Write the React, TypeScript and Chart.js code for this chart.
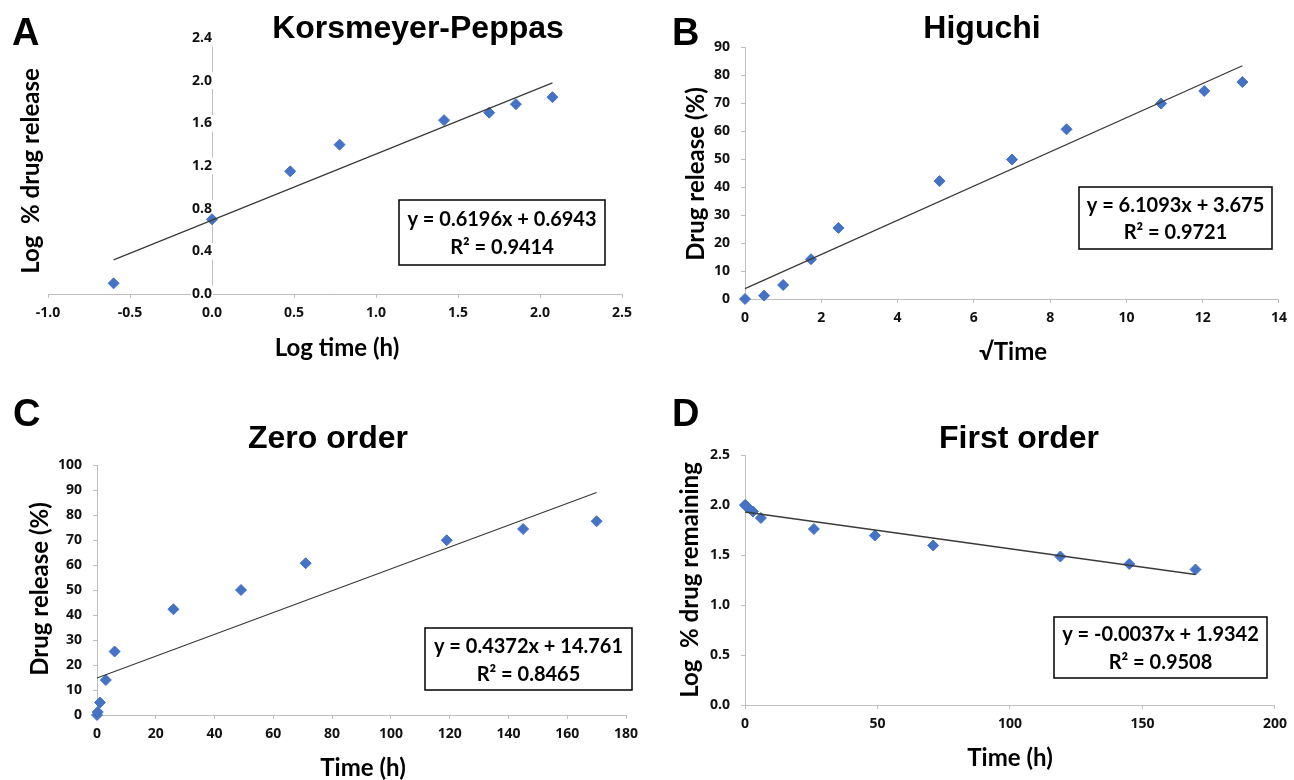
import React, { useEffect, useRef } from 'react';
import { Chart, registerables } from 'chart.js';

Chart.register(...registerables);

const PAGE_W = 1294;
const PAGE_H = 780;

// ---------- Panel A: Korsmeyer-Peppas ----------
const kpLogTime = [-0.6, 0.0, 0.477, 0.778, 1.415, 1.69, 1.853, 2.076];
const kpLogRelease = [0.1, 0.7, 1.15, 1.4, 1.63, 1.7, 1.78, 1.845];
const kpTrendX = [-0.6, 2.076];
const kpTrendY = [0.32, 1.98];
const kpXTicks = [-1, -0.5, 0, 0.5, 1, 1.5, 2, 2.5];
const kpXLabels = ['-1.0', '-0.5', '0.0', '0.5', '1.0', '1.5', '2.0', '2.5'];
const kpYTicks = [0, 0.4, 0.8, 1.2, 1.6, 2.0, 2.4];
const kpYLabels = ['0.0', '0.4', '0.8', '1.2', '1.6', '2.0', '2.4'];

// ---------- Panel B: Higuchi ----------
const hgSqrtTime = [0, 0.5, 1, 1.73, 2.45, 5.1, 7.0, 8.43, 10.91, 12.04, 13.04];
const hgRelease = [0, 1.2, 5, 14.2, 25.4, 42.1, 49.8, 60.6, 69.8, 74.3, 77.5];
const hgTrendX = [0, 13.04];
const hgTrendY = [3.7, 83.3];
const hgXTicks = [0, 2, 4, 6, 8, 10, 12, 14];
const hgXLabels = ['0', '2', '4', '6', '8', '10', '12', '14'];
const hgYTicks = [0, 10, 20, 30, 40, 50, 60, 70, 80, 90];
const hgYLabels = ['0', '10', '20', '30', '40', '50', '60', '70', '80', '90'];

// ---------- Panel C: Zero order ----------
const zoTime = [0, 0.25, 1, 3, 6, 26, 49, 71, 119, 145, 170];
const zoRelease = [0, 1.2, 5, 14, 25.4, 42.3, 50, 60.7, 69.9, 74.4, 77.5];
const zoTrendX = [0, 170];
const zoTrendY = [14.8, 89.0];
const zoXTicks = [0, 20, 40, 60, 80, 100, 120, 140, 160, 180];
const zoXLabels = ['0', '20', '40', '60', '80', '100', '120', '140', '160', '180'];
const zoYTicks = [0, 10, 20, 30, 40, 50, 60, 70, 80, 90, 100];
const zoYLabels = ['0', '10', '20', '30', '40', '50', '60', '70', '80', '90', '100'];

// ---------- Panel D: First order ----------
const foTime = [0, 0.25, 1, 3, 6, 26, 49, 71, 119, 145, 170];
const foLogRemaining = [2.0, 1.995, 1.978, 1.935, 1.87, 1.76, 1.695, 1.595, 1.485, 1.41, 1.355];
const foTrendX = [0, 170];
const foTrendY = [1.93, 1.305];
const foXTicks = [0, 50, 100, 150, 200];
const foXLabels = ['0', '50', '100', '150', '200'];
const foYTicks = [0, 0.5, 1.0, 1.5, 2.0, 2.5];
const foYLabels = ['0.0', '0.5', '1.0', '1.5', '2.0', '2.5'];

const MARKER = '#4472C4';
const TREND = '#3a3a3a';
const AXIS = '#bfbfbf';
const TICK_TXT = '#111111';
const TICK_FONT = { family: '"Open Sans"', size: 14, weight: 'bold' as const };
const X_AXIS_H = 40;
const Y_AXIS_W = 40;

type Panel = {
  letter: string;
  title: string;
  xTitle: string;
  yTitle: string;
  eq: string;
  r2: string;
  xs: number[];
  ys: number[];
  tx: number[];
  ty: number[];
  xTicks: number[];
  xLabels: string[];
  yTicks: number[];
  yLabels: string[];
  yAtZero: boolean;
  area: { left: number; right: number; top: number; bottom: number };
  letterPos: [number, number];
  titlePos: [number, number];
  xTitlePos: [number, number];
  yTitlePos: [number, number];
  box: { x: number; y: number; w: number; h: number; l1: number; l2: number };
};

const panels: Panel[] = [
  {
    letter: 'A', title: 'Korsmeyer-Peppas', xTitle: 'Log time (h)', yTitle: 'Log  % drug release',
    eq: 'y = 0.6196x + 0.6943', r2: 'R² = 0.9414',
    xs: kpLogTime, ys: kpLogRelease, tx: kpTrendX, ty: kpTrendY,
    xTicks: kpXTicks, xLabels: kpXLabels, yTicks: kpYTicks, yLabels: kpYLabels, yAtZero: true,
    area: { left: 48, right: 622, top: 38, bottom: 294 },
    letterPos: [12, 45], titlePos: [418, 38], xTitlePos: [337, 348], yTitlePos: [31, 171],
    box: { x: 399, y: 200, w: 206, h: 65, l1: 220, l2: 248 },
  },
  {
    letter: 'B', title: 'Higuchi', xTitle: '√Time', yTitle: 'Drug release (%)',
    eq: 'y = 6.1093x + 3.675', r2: 'R² = 0.9721',
    xs: hgSqrtTime, ys: hgRelease, tx: hgTrendX, ty: hgTrendY,
    xTicks: hgXTicks, xLabels: hgXLabels, yTicks: hgYTicks, yLabels: hgYLabels, yAtZero: false,
    area: { left: 745, right: 1287, top: 47, bottom: 299 },
    letterPos: [672, 45], titlePos: [982, 38], xTitlePos: [1013, 352], yTitlePos: [696, 174],
    box: { x: 1079, y: 187, w: 193, h: 62, l1: 206, l2: 233 },
  },
  {
    letter: 'C', title: 'Zero order', xTitle: 'Time (h)', yTitle: 'Drug release (%)',
    eq: 'y = 0.4372x + 14.761', r2: 'R² = 0.8465',
    xs: zoTime, ys: zoRelease, tx: zoTrendX, ty: zoTrendY,
    xTicks: zoXTicks, xLabels: zoXLabels, yTicks: zoYTicks, yLabels: zoYLabels, yAtZero: false,
    area: { left: 97, right: 626, top: 465, bottom: 715 },
    letterPos: [13, 426], titlePos: [328, 448], xTitlePos: [363, 768], yTitlePos: [40, 589],
    box: { x: 425, y: 628, w: 207, h: 62, l1: 647, l2: 675 },
  },
  {
    letter: 'D', title: 'First order', xTitle: 'Time (h)', yTitle: 'Log  % drug remaining',
    eq: 'y = -0.0037x + 1.9342', r2: 'R² = 0.9508',
    xs: foTime, ys: foLogRemaining, tx: foTrendX, ty: foTrendY,
    xTicks: foXTicks, xLabels: foXLabels, yTicks: foYTicks, yLabels: foYLabels, yAtZero: false,
    area: { left: 745, right: 1275, top: 455, bottom: 705 },
    letterPos: [672, 426], titlePos: [1019, 448], xTitlePos: [1010, 758], yTitlePos: [690, 580],
    box: { x: 1054, y: 617, w: 213, h: 61, l1: 635, l2: 663 },
  },
];

function annotations(p: Panel) {
  return {
    id: 'annot' + p.letter,
    afterDraw(chart: any) {
      const ctx: CanvasRenderingContext2D = chart.ctx;
      ctx.save();
      ctx.fillStyle = '#000';
      ctx.textBaseline = 'alphabetic';
      ctx.textAlign = 'left';
      ctx.font = 'bold 38px "Liberation Sans", Arial, sans-serif';
      ctx.fillText(p.letter, p.letterPos[0], p.letterPos[1]);
      ctx.textAlign = 'center';
      ctx.font = 'bold 32px "Liberation Sans", Arial, sans-serif';
      ctx.fillText(p.title, p.titlePos[0], p.titlePos[1]);
      ctx.textBaseline = 'middle';
      ctx.font = 'bold 24px Lato, sans-serif';
      ctx.fillText(p.xTitle, p.xTitlePos[0], p.xTitlePos[1]);
      ctx.save();
      ctx.translate(p.yTitlePos[0], p.yTitlePos[1]);
      ctx.rotate(-Math.PI / 2);
      ctx.fillText(p.yTitle, 0, 0);
      ctx.restore();
      const b = p.box;
      ctx.fillStyle = '#fff';
      ctx.fillRect(b.x, b.y, b.w, b.h);
      ctx.strokeStyle = '#000';
      ctx.lineWidth = 1.5;
      ctx.strokeRect(b.x, b.y, b.w, b.h);
      ctx.fillStyle = '#000';
      ctx.font = 'bold 20px Lato, sans-serif';
      ctx.fillText(p.eq, b.x + b.w / 2, b.l1);
      ctx.fillText(p.r2, b.x + b.w / 2, b.l2);
      ctx.restore();
    },
  };
}

function makeConfig(p: Panel): any {
  const a = p.area;
  const xMin = p.xTicks[0];
  const xMax = p.xTicks[p.xTicks.length - 1];
  const yMin = p.yTicks[0];
  const yMax = p.yTicks[p.yTicks.length - 1];
  const gridOpts = { display: true, drawOnChartArea: false, drawTicks: true, tickLength: 4, color: AXIS, lineWidth: 1 };
  const borderOpts = { display: true, color: AXIS, width: 1 };
  return {
    type: 'scatter',
    data: {
      datasets: [
        {
          data: p.tx.map((x, i) => ({ x, y: p.ty[i] })),
          showLine: true,
          borderColor: TREND,
          borderWidth: 1.3,
          pointRadius: 0,
          pointHoverRadius: 0,
          clip: false,
        },
        {
          data: p.xs.map((x, i) => ({ x, y: p.ys[i] })),
          pointStyle: 'rectRot',
          pointRadius: 5.5,
          backgroundColor: MARKER,
          borderColor: MARKER,
          borderWidth: 1,
          clip: false,
        },
      ],
    },
    options: {
      responsive: false,
      animation: false,
      events: [],
      layout: {
        padding: {
          left: p.yAtZero ? a.left : a.left - Y_AXIS_W,
          right: PAGE_W - a.right,
          top: a.top,
          bottom: PAGE_H - a.bottom - X_AXIS_H,
        },
      },
      plugins: { legend: { display: false }, tooltip: { enabled: false }, title: { display: false } },
      scales: {
        x: {
          type: 'linear',
          position: 'bottom',
          min: xMin,
          max: xMax,
          afterBuildTicks: (s: any) => { s.ticks = p.xTicks.map((v) => ({ value: v })); },
          afterFit: (s: any) => { s.height = X_AXIS_H; },
          grid: gridOpts,
          border: borderOpts,
          ticks: {
            font: TICK_FONT,
            color: TICK_TXT,
            padding: 7,
            maxRotation: 0,
            autoSkip: false,
            callback: (_v: any, i: number) => p.xLabels[i],
          },
        },
        y: {
          type: 'linear',
          position: p.yAtZero ? { x: 0 } : 'left',
          min: yMin,
          max: yMax,
          afterBuildTicks: (s: any) => { s.ticks = p.yTicks.map((v) => ({ value: v })); },
          afterFit: (s: any) => { if (!p.yAtZero) s.width = Y_AXIS_W; },
          grid: gridOpts,
          border: borderOpts,
          ticks: {
            font: TICK_FONT,
            color: TICK_TXT,
            padding: 11,
            autoSkip: false,
            showLabelBackdrop: p.yAtZero,
            backdropColor: '#ffffff',
            backdropPadding: { x: 1, y: 0 },
            callback: (_v: any, i: number) => p.yLabels[i],
          },
        },
      },
    },
    plugins: [annotations(p)],
  };
}

function PanelCanvas({ p }: { p: Panel }) {
  const ref = useRef<HTMLCanvasElement | null>(null);
  useEffect(() => {
    if (!ref.current) return;
    const chart = new Chart(ref.current, makeConfig(p));
    return () => chart.destroy();
  }, [p]);
  return (
    <canvas
      ref={ref}
      width={PAGE_W}
      height={PAGE_H}
      style={{ position: 'absolute', left: 0, top: 0, width: PAGE_W, height: PAGE_H, pointerEvents: 'none' }}
    />
  );
}

export default function App() {
  return (
    <div style={{ position: 'absolute', left: 0, top: 0, width: PAGE_W, height: PAGE_H, background: '#fff', overflow: 'hidden' }}>
      {panels.map((p) => (
        <PanelCanvas key={p.letter} p={p} />
      ))}
    </div>
  );
}
